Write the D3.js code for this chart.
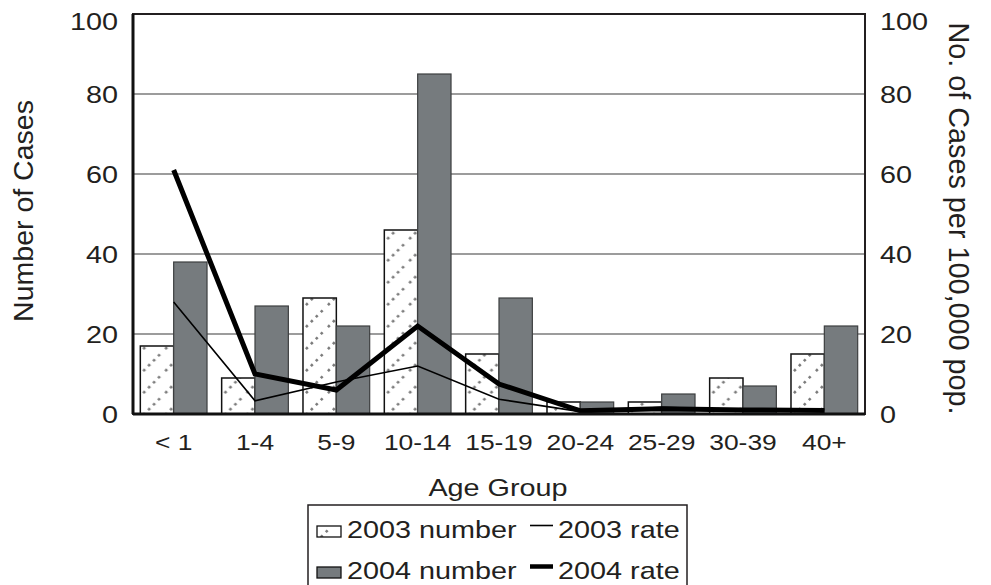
<!DOCTYPE html>
<html>
<head>
<meta charset="utf-8">
<script src="https://cdn.jsdelivr.net/npm/d3@7"></script>
<style>
  html, body { margin: 0; padding: 0; background: #fff; }
  svg { display: block; font-family: "Liberation Sans", Arial, Helvetica, sans-serif; }
  text { fill: #231f20; }
</style>
</head>
<body>
<svg id="chart" width="991" height="585"></svg>
<script>
// Cases by age group, 2003 vs 2004 (counts on the left axis, rates per 100,000 on the right)
const ageGroups = ["< 1", "1-4", "5-9", "10-14", "15-19", "20-24", "25-29", "30-39", "40+"];
const cases2003 = [17, 9, 29, 46, 15, 3, 3, 9, 15];
const cases2004 = [38, 27, 22, 85, 29, 3, 5, 7, 22];
const rate2003  = [28, 3.3, 8, 12, 3.7, 0.6, 1.7, 1.1, 1.1];
const rate2004  = [61, 10, 6, 22, 7.5, 0.8, 1.3, 1.0, 0.9];
const yTicks = [0, 20, 40, 60, 80, 100];
const seriesNames = ["2003 number", "2004 number"];
const legendLabels = ["2003 number", "2003 rate", "2004 number", "2004 rate"];

const W = 991, H = 585;
const plot = { left: 133, right: 865, top: 14, bottom: 414 };
const STRETCH = 1.2;          // horizontal widening used for all upright text
const BAR_GREY = "#767b7e";

const svg = d3.select("#chart");

// hatch pattern for the 2003 bars
const defs = svg.append("defs");
const pat = defs.append("pattern")
  .attr("id", "hatch2003")
  .attr("patternUnits", "userSpaceOnUse")
  .attr("width", 22).attr("height", 22);
pat.append("rect").attr("width", 22).attr("height", 22).attr("fill", "#fff");
pat.append("path")
  .attr("d", "M-2,24 L24,-2")
  .attr("stroke", "#7c7c7c")
  .attr("stroke-width", 2.6)
  .attr("stroke-dasharray", "2.6,4.4");

const x = d3.scaleBand()
  .domain(ageGroups)
  .range([plot.left, plot.right])
  .paddingInner(0.18)
  .paddingOuter(0.09);

const xSeries = d3.scaleBand()
  .domain(seriesNames)
  .range([0, x.bandwidth()])
  .padding(0);

const yLeft = d3.scaleLinear().domain([0, 100]).range([plot.bottom, plot.top]);
const yRight = d3.scaleLinear().domain([0, 100]).range([plot.bottom, plot.top]);

// widen a text element horizontally around its own anchor point
function widen(sel) {
  sel.each(function () {
    const t = d3.select(this);
    const tx = +t.attr("x") || 0;
    t.attr("x", tx / STRETCH).attr("transform", `scale(${STRETCH},1)`);
  });
}

// gridlines
svg.append("g")
  .selectAll("line")
  .data(yTicks.filter(v => v > 0 && v < 100))
  .join("line")
  .attr("x1", plot.left).attr("x2", plot.right)
  .attr("y1", d => yLeft(d)).attr("y2", d => yLeft(d))
  .attr("stroke", "#3a3a3a")
  .attr("stroke-width", 1.2);

// bars
const rows = ageGroups.map((g, i) => ({ group: g, values: [cases2003[i], cases2004[i]] }));
const groups = svg.append("g")
  .selectAll("g")
  .data(rows)
  .join("g")
  .attr("transform", d => `translate(${x(d.group)},0)`);

groups.selectAll("rect")
  .data(d => d.values.map((v, k) => ({ series: seriesNames[k], value: v })))
  .join("rect")
  .attr("x", d => xSeries(d.series))
  .attr("width", xSeries.bandwidth())
  .attr("y", d => yLeft(d.value))
  .attr("height", d => yLeft(0) - yLeft(d.value))
  .attr("fill", d => d.series === "2003 number" ? "url(#hatch2003)" : BAR_GREY)
  .attr("stroke", d => d.series === "2003 number" ? "#111" : "#3d3f40")
  .attr("stroke-width", d => d.series === "2003 number" ? 1.5 : 1.2);

// rate lines
const line = d3.line()
  .x((d, i) => x(ageGroups[i]) + x.bandwidth() / 2)
  .y(d => yRight(d));

svg.append("path")
  .datum(rate2003)
  .attr("d", line)
  .attr("fill", "none")
  .attr("stroke", "#000")
  .attr("stroke-width", 1.6);

svg.append("path")
  .datum(rate2004)
  .attr("d", line)
  .attr("fill", "none")
  .attr("stroke", "#000")
  .attr("stroke-width", 5)
  .attr("stroke-linejoin", "miter");

// frame
svg.append("rect")
  .attr("x", plot.left).attr("y", plot.top)
  .attr("width", plot.right - plot.left)
  .attr("height", plot.bottom - plot.top)
  .attr("fill", "none")
  .attr("stroke", "#231f20")
  .attr("stroke-width", 2);
svg.append("line")
  .attr("x1", plot.left).attr("x2", plot.left)
  .attr("y1", plot.top).attr("y2", plot.bottom)
  .attr("stroke", "#111").attr("stroke-width", 3);
svg.append("line")
  .attr("x1", plot.left).attr("x2", plot.right)
  .attr("y1", plot.bottom).attr("y2", plot.bottom)
  .attr("stroke", "#111").attr("stroke-width", 3);

// axes
const tickFont = 24;
const leftAxis = svg.append("g")
  .attr("transform", `translate(${plot.left},0)`)
  .call(d3.axisLeft(yLeft).tickValues(yTicks).tickSize(0).tickPadding(15));
leftAxis.select(".domain").remove();
leftAxis.selectAll("text")
  .attr("font-size", tickFont)
  .attr("font-family", null)
  .attr("dy", d => d === 100 ? "0.66em" : "0.36em")
  .call(widen);

const rightAxis = svg.append("g")
  .attr("transform", `translate(${plot.right},0)`)
  .call(d3.axisRight(yRight).tickValues(yTicks).tickSize(0).tickPadding(15));
rightAxis.select(".domain").remove();
rightAxis.selectAll("text")
  .attr("font-size", tickFont)
  .attr("font-family", null)
  .attr("dy", d => d === 100 ? "0.66em" : "0.36em")
  .call(widen);

const bottomAxis = svg.append("g")
  .attr("transform", `translate(0,${plot.bottom})`)
  .call(d3.axisBottom(x).tickSize(0).tickPadding(20));
bottomAxis.select(".domain").remove();
bottomAxis.selectAll("text")
  .attr("font-size", 22)
  .attr("font-family", null)
  .attr("transform", `scale(${STRETCH},1)`);
bottomAxis.selectAll(".tick")
  .attr("transform", d => `translate(${x(d) + x.bandwidth() / 2},0)`);

// axis titles
svg.append("text")
  .attr("transform", `translate(${(plot.left + plot.right) / 2 - 1},496) scale(${STRETCH},1)`)
  .attr("text-anchor", "middle")
  .attr("font-size", 24)
  .text("Age Group");

svg.append("text")
  .attr("transform", "translate(33,211) rotate(-90)")
  .attr("text-anchor", "middle")
  .attr("font-size", 28.5)
  .text("Number of Cases");

svg.append("text")
  .attr("transform", "translate(949,218.5) rotate(90)")
  .attr("text-anchor", "middle")
  .attr("font-size", 28.8)
  .text("No. of Cases per 100,000 pop.");

// legend
const legend = svg.append("g");
legend.append("rect")
  .attr("x", 308).attr("y", 505)
  .attr("width", 379).attr("height", 100)
  .attr("fill", "#fff")
  .attr("stroke", "#231f20")
  .attr("stroke-width", 1.5);

const legendItems = [
  { label: legendLabels[0], kind: "bar2003", x: 317, y: 538 },
  { label: legendLabels[1], kind: "line2003", x: 530, y: 538 },
  { label: legendLabels[2], kind: "bar2004", x: 317, y: 579 },
  { label: legendLabels[3], kind: "line2004", x: 530, y: 579 }
];

legendItems.forEach(it => {
  if (it.kind === "bar2003" || it.kind === "bar2004") {
    legend.append("rect")
      .attr("x", it.x).attr("y", it.y - 12)
      .attr("width", 24).attr("height", 11)
      .attr("fill", it.kind === "bar2003" ? "url(#hatch2003)" : BAR_GREY)
      .attr("stroke", "#111")
      .attr("stroke-width", 1.3);
  } else {
    legend.append("line")
      .attr("x1", it.x).attr("x2", it.x + 23)
      .attr("y1", it.y - 12.5).attr("y2", it.y - 12.5)
      .attr("stroke", "#000")
      .attr("stroke-width", it.kind === "line2003" ? 1.6 : 4.5);
  }
  const tx = it.x + (it.kind.startsWith("bar") ? 30 : 28);
  legend.append("text")
    .attr("transform", `translate(${tx},${it.y}) scale(${STRETCH},1)`)
    .attr("font-size", 24)
    .text(it.label);
});
</script>
</body>
</html>
